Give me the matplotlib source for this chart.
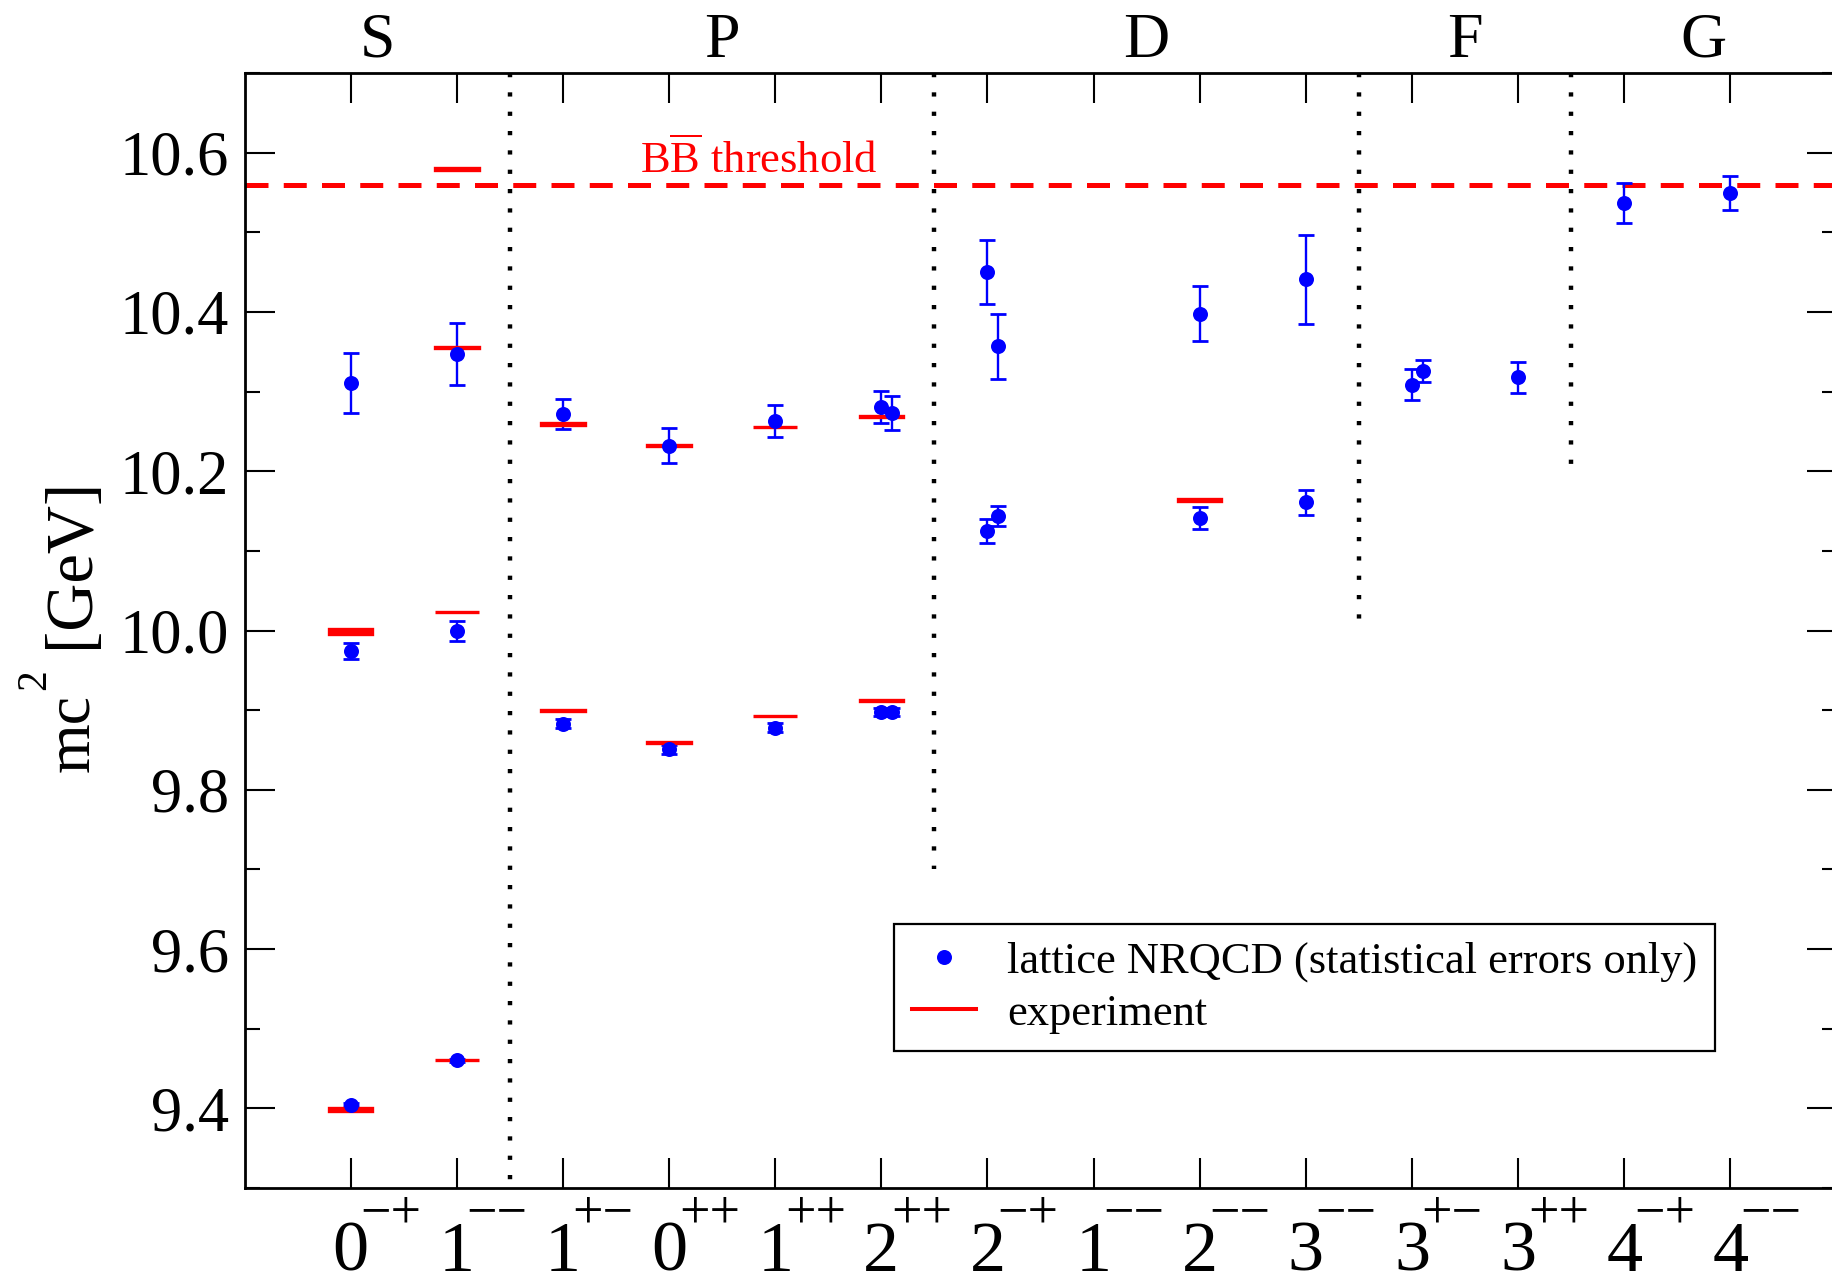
import numpy as np
import matplotlib
matplotlib.use('Agg')
import matplotlib.pyplot as plt
import matplotlib.transforms as mtransforms
from matplotlib.lines import Line2D

plt.rcParams['font.family'] = ['Liberation Serif', 'DejaVu Serif']
plt.rcParams['mathtext.fontset'] = 'custom'
plt.rcParams['mathtext.rm'] = 'Liberation Serif'
plt.rcParams['mathtext.it'] = 'Liberation Serif:italic'

# channel labels J^PC along the bottom axis
chan_x = list(range(1, 15))
chan_J = ['0', '1', '1', '0', '1', '2', '2', '1', '2', '3', '3', '3', '4', '4']
chan_PC = ['\u2212+', '\u2212\u2212', '+\u2212', '++', '++', '++', '\u2212+',
           '\u2212\u2212', '\u2212\u2212', '\u2212\u2212', '+\u2212', '++', '\u2212+', '\u2212\u2212']

# partial wave groups
wave_names = ['S', 'P', 'D', 'F', 'G']
wave_centers = [1.25, 4.5, 8.5, 11.5, 13.75]
sep_x = [2.5, 6.5, 10.5, 12.5]
sep_ymin = [9.3, 9.7, 10.0, 10.2]

# lattice NRQCD masses (GeV) with statistical errors
lat_x = [1, 1, 1, 2, 2, 2, 3, 3, 4, 4, 5, 5, 6, 6.1, 6, 6.1,
         7, 7.1, 7, 7.1, 9, 9, 10, 10, 11, 11.1, 12, 13, 14]
lat_m = [9.4044, 9.9745, 10.311, 9.4604, 9.9994, 10.347, 9.883, 10.272,
         9.8506, 10.232, 9.878, 10.263, 9.898, 9.898, 10.281, 10.273,
         10.1255, 10.1438, 10.4505, 10.3568, 10.1411, 10.398, 10.161, 10.4411,
         10.3089, 10.326, 10.3182, 10.5365, 10.5495]
lat_err = [0.002, 0.010, 0.038, 0.002, 0.012, 0.039, 0.006, 0.019,
           0.006, 0.022, 0.006, 0.020, 0.005, 0.005, 0.020, 0.021,
           0.015, 0.013, 0.040, 0.041, 0.014, 0.035, 0.016, 0.056,
           0.019, 0.014, 0.0195, 0.025, 0.021]

# experimental masses (GeV)
exp_x = [1, 1, 2, 2, 2, 2, 3, 3, 4, 4, 5, 5, 6, 6, 9]
exp_m = [9.3987, 9.999, 9.4603, 10.0233, 10.3552, 10.5794, 9.8993, 10.2598,
         9.8594, 10.2325, 9.8928, 10.2555, 9.9122, 10.2687, 10.1637]
exp_err = [0.0020, 0.0035, 0.0003, 0.0003, 0.0005, 0.0012, 0.0008, 0.0012,
           0.0004, 0.0004, 0.0003, 0.0002, 0.0003, 0.0002, 0.0014]

bb_threshold = 10.559

W, H = 1833, 1277
fig = plt.figure(figsize=(W / 100, H / 100), dpi=100)
ax = fig.add_axes([244.6 / W, 1 - 1187.9 / H, (1836.5 - 244.6) / W, (1187.9 - 73.1) / H])
ax.set_xlim(0, 15)
ax.set_ylim(9.3, 10.7)

# separators between partial waves
ax.vlines(sep_x, [10.7] * len(sep_x), sep_ymin, colors='black', linewidth=3.2,
          linestyles=[(0, (0.95, 3.4))], zorder=1)

# threshold
ax.axhline(bb_threshold, color='red', linewidth=3.6, dashes=(4.6, 3.05), zorder=2)
ax.text(3.726, 10.574, r'B$\overline{\mathrm{B}}$ threshold', color='red',
        fontsize=32, ha='left', va='baseline')

# lattice error bars, then experiment, then the points on top
ax.errorbar(lat_x, lat_m, yerr=lat_err, fmt='none', ecolor='blue',
            elinewidth=1.7, capsize=6, capthick=2.0, zorder=3)
exp_lo = [m - e for m, e in zip(exp_m, exp_err)]
exp_h = [2 * e for e in exp_err]
ax.bar(exp_x, exp_h, bottom=exp_lo, width=0.41, color='red', edgecolor='red',
       linewidth=2.4, zorder=4)
ax.plot(lat_x, lat_m, 'o', color='blue', markersize=10.8, markeredgewidth=0, zorder=5)

# axes styling
for sp in ax.spines.values():
    sp.set_linewidth(2.0)
ax.set_xticks(chan_x)
ax.set_xticklabels([])
ax.set_yticks([9.4, 9.6, 9.8, 10.0, 10.2, 10.4, 10.6])
ax.set_yticklabels(['9.4', '9.6', '9.8', '10.0', '10.2', '10.4', '10.6'])
ax.set_yticks(np.arange(9.3, 10.71, 0.1), minor=True)
ax.tick_params(axis='x', which='major', direction='in', length=21.6, width=1.5,
               top=True, bottom=True)
ax.tick_params(axis='y', which='major', direction='in', length=21.6, width=1.5,
               left=True, right=True, labelsize=45, pad=11)
ax.tick_params(axis='y', which='minor', direction='in', length=10.5, width=1.5,
               left=True, right=True)

# J^PC labels
trans = mtransforms.blended_transform_factory(ax.transData, ax.transAxes)
for x, j, pc in zip(chan_x, chan_J, chan_PC):
    ax.text(x, -0.0745, j, transform=trans, fontsize=52, ha='center', va='baseline')
    ax.annotate(pc, xy=(x, -0.0355), xycoords=trans, xytext=(7, 0),
                textcoords='offset points', fontsize=39, ha='left', va='baseline')

for x, name in zip(wave_centers, wave_names):
    ax.text(x, 1.0147, name, transform=trans, fontsize=46, ha='center', va='baseline')

# y label built from pieces so the exponent sits high
fig.text(88 / W, 1 - 772 / H, 'mc', fontsize=46, rotation=90,
         rotation_mode='anchor', ha='left', va='baseline')
fig.text(45 / W, 1 - 690 / H, '2', fontsize=30, rotation=90,
         rotation_mode='anchor', ha='left', va='baseline')
fig.text(88 / W, 1 - 648 / H, '[GeV]', fontsize=48, rotation=90,
         rotation_mode='anchor', ha='left', va='baseline')

handles = [Line2D([], [], marker='o', color='blue', linestyle='none',
                  markersize=10.8, markeredgewidth=0),
           Line2D([], [], color='red', linewidth=2.9)]
leg = ax.legend(handles, ['lattice NRQCD (statistical errors only)', 'experiment'],
                loc='upper left', bbox_to_anchor=(0.408, 0.2367), borderaxespad=0,
                fontsize=32, frameon=True, fancybox=False, framealpha=1,
                edgecolor='black', borderpad=0.4, handlelength=1.44,
                handletextpad=0.7, labelspacing=0.25)
leg.get_frame().set_linewidth(1.6)

fig.savefig('out.png', dpi=100)
